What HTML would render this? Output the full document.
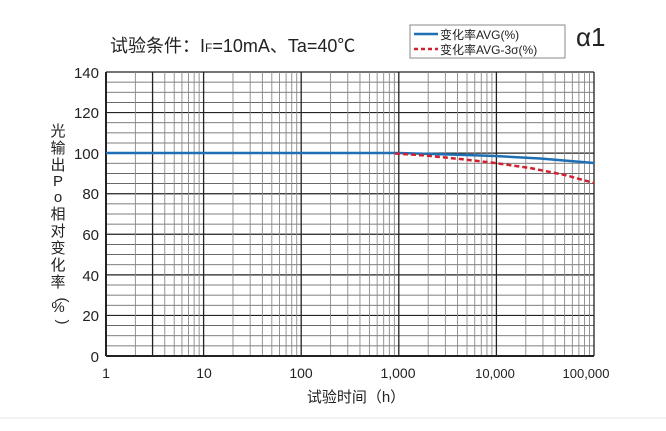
<!DOCTYPE html>
<html><head><meta charset="utf-8"><style>
body{margin:0;background:#fff;width:666px;height:426px;overflow:hidden;font-family:"Liberation Sans","Noto Sans CJK SC",sans-serif}
</style></head><body>
<svg id="s" width="666" height="426" xmlns="http://www.w3.org/2000/svg" font-family="Liberation Sans, Noto Sans CJK SC, sans-serif">
<line x1="0" y1="418" x2="666" y2="418" stroke="#e6e6e6"/>
<g id="grid"></g>
<text x="110" y="52" font-size="18" fill="#222">试验条件：I<tspan font-size="12">F</tspan>=10mA、Ta=40℃</text>
<rect x="410" y="25" width="155" height="33" fill="#fff" stroke="#888"/>
<line x1="414" y1="34" x2="438" y2="34" stroke="#1f6fb5" stroke-width="2.5"/>
<text x="440" y="39" font-size="12" fill="#222">变化率AVG(%)</text>
<line x1="414" y1="49" x2="438" y2="49" stroke="#d2202f" stroke-width="2.5" stroke-dasharray="4,3"/>
<text x="440" y="54" font-size="12" fill="#222">变化率AVG-3σ(%)</text>
<text x="576" y="46" font-size="26" fill="#222">α1</text>
<g font-size="15" fill="#222" text-anchor="end">
<text x="99" y="78">140</text><text x="99" y="118">120</text><text x="99" y="159">100</text><text x="99" y="199">80</text><text x="99" y="240">60</text><text x="99" y="281">40</text><text x="99" y="321">20</text><text x="99" y="362">0</text>
</g>
<g font-size="14" fill="#222" text-anchor="middle">
<text x="106" y="378">1</text><text x="204" y="378">10</text><text x="301" y="378">100</text><text x="398" y="378">1,000</text><text x="495" y="378" font-size="13">10,000</text><text x="586" y="378" font-size="13">100,000</text>
</g>
<text x="356" y="402" font-size="15" fill="#222" text-anchor="middle">试验时间（h）</text>
<g font-size="15" fill="#222" text-anchor="middle">
<text x="58" y="136">光</text><text x="58" y="153">输</text><text x="58" y="170">出</text><text x="58" y="186">P</text><text x="58" y="202">o</text><text x="58" y="219">相</text><text x="58" y="236">对</text><text x="58" y="253">变</text><text x="58" y="270">化</text><text x="58" y="287">率</text><text x="58" y="300" transform="rotate(90 58 300)">(</text><text x="58" y="312">%</text><text x="58" y="322" transform="rotate(90 58 322)">)</text>
</g>
<path d="M106,153 L398,153 L450,154.5 L495,156 L540,158.5 L594,163" fill="none" stroke="#1f6fb5" stroke-width="2.5"/>
<path d="M395,153.5 L425,155.5 L460,159 L495,163 L530,168 L565,175 L594,183" fill="none" stroke="#d2202f" stroke-width="2.5" stroke-dasharray="5,3"/>
</svg>
<script>
var g=document.getElementById('grid'),L=106,R=594,T=72,B=356,h='';
for(var v=0;v<=140;v+=5){var y=B-v*(B-T)/140;h+='<line x1="'+L+'" y1="'+y+'" x2="'+R+'" y2="'+y+'" stroke="'+(v%20==0?'#222':'#555')+'" stroke-width="'+(v%20==0?1.2:0.8)+'"/>';}
var dec=(R-L)/5;
for(var d=0;d<5;d++)for(var k=1;k<10;k++){var x=L+dec*(d+Math.log10(k));var dark=(k==1)||(k==3&&d==0);h+='<line x1="'+x+'" y1="'+T+'" x2="'+x+'" y2="'+B+'" stroke="'+(dark?'#222':'#888')+'" stroke-width="'+(dark?1.3:0.9)+'"/>';}
h+='<line x1="'+R+'" y1="'+T+'" x2="'+R+'" y2="'+B+'" stroke="#222" stroke-width="1.3"/>';
h+='<line x1="'+L+'" y1="'+B+'" x2="'+R+'" y2="'+B+'" stroke="#222" stroke-width="2"/><line x1="'+L+'" y1="'+T+'" x2="'+L+'" y2="'+B+'" stroke="#222" stroke-width="2"/>';
g.innerHTML=h;
</script>
</body></html>
